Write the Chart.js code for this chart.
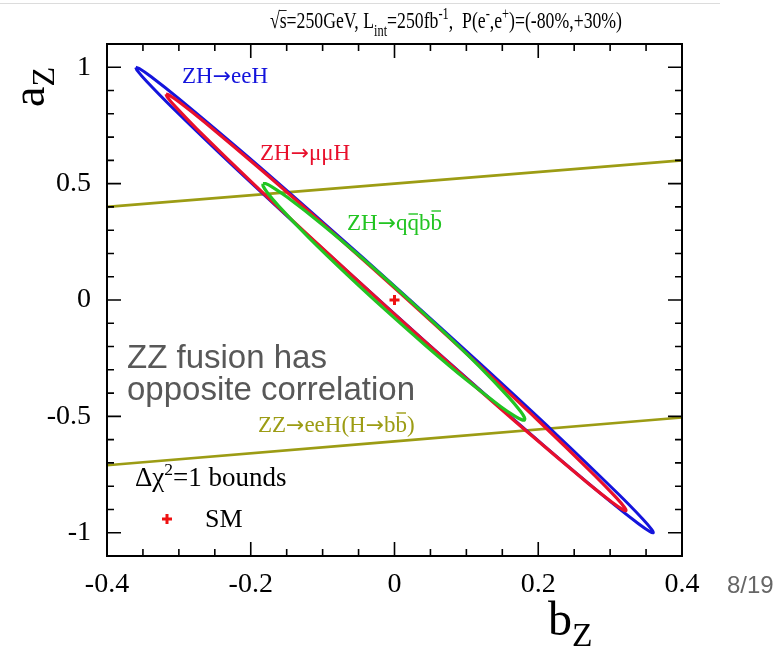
<!DOCTYPE html>
<html>
<head>
<meta charset="utf-8">
<script src="https://cdn.jsdelivr.net/npm/chart.js@4.4.1/dist/chart.umd.min.js"></script>
<style>
  html, body { margin: 0; padding: 0; background: #fff; }
  #wrap { width: 776px; height: 648px; position: relative; }
</style>
</head>
<body>
<div id="wrap"><canvas id="fit"></canvas></div>
<script>
// ---------------------------------------------------------------
// Delta chi^2 = 1 contours in the (bZ, aZ) plane
// ---------------------------------------------------------------

const X_TICKS = [-0.4, -0.2, 0, 0.2, 0.4];
const X_MINOR = [-0.35, -0.3, -0.25, -0.15, -0.1, -0.05, 0.05, 0.1, 0.15, 0.25, 0.3, 0.35];
const Y_TICKS = [-1, -0.5, 0, 0.5, 1];
const Y_MINOR = [-0.9, -0.8, -0.7, -0.6, -0.4, -0.3, -0.2, -0.1, 0.1, 0.2, 0.3, 0.4, 0.6, 0.7, 0.8, 0.9];

// ZH -> eeH contour (bZ, aZ)
const eehB = [-0.360, -0.3551, -0.3390, -0.3009, -0.2082, -0.0988, 0.0097, 0.1172, 0.2238, 0.3111, 0.3450, 0.3578, 0.360,
              0.3551, 0.3390, 0.3009, 0.2082, 0.0988, -0.0097, -0.1172, -0.2238, -0.3111, -0.3450, -0.3578, -0.360];
const eehA = [1.000, 0.9947, 0.9604, 0.8674, 0.6265, 0.3316, 0.0332, -0.2684, -0.5735, -0.8326, -0.9396, -0.9853, -1.000,
              -0.9947, -0.9604, -0.8674, -0.6265, -0.3316, -0.0332, 0.2684, 0.5735, 0.8326, 0.9396, 0.9853, 1.000];

// ZH -> mumuH contour
const mmhB = [-0.318, -0.3135, -0.2991, -0.2652, -0.1827, -0.0853, 0.0111, 0.1067, 0.2013, 0.2788, 0.3089, 0.3201, 0.322,
              0.3175, 0.3031, 0.2692, 0.1867, 0.0893, -0.0071, -0.1027, -0.1973, -0.2748, -0.3049, -0.3161, -0.318];
const mmhA = [0.885, 0.8805, 0.8500, 0.7672, 0.5518, 0.2881, 0.0211, -0.2489, -0.5222, -0.7544, -0.8506, -0.8917, -0.905,
              -0.9005, -0.8700, -0.7872, -0.5718, -0.3081, -0.0411, 0.2289, 0.5022, 0.7344, 0.8306, 0.8717, 0.885];

// ZH -> qqbb contour
const qqbbB = [-0.183, -0.1796, -0.1705, -0.1500, -0.1015, -0.0452, 0.0099, 0.0640, 0.1169, 0.1594, 0.1753, 0.1808, 0.181,
               0.1776, 0.1685, 0.1480, 0.0995, 0.0432, -0.0119, -0.0660, -0.1189, -0.1614, -0.1773, -0.1828, -0.183];
const qqbbA = [0.500, 0.5001, 0.4863, 0.4435, 0.3269, 0.1804, 0.0298, -0.1242, -0.2821, -0.4193, -0.4779, -0.5047, -0.515,
               -0.5151, -0.5013, -0.4585, -0.3419, -0.1954, -0.0448, 0.1092, 0.2671, 0.4043, 0.4629, 0.4897, 0.500];

// ZZ fusion band edges (only the two long sides are inside the frame)
const zzUpperB = [-0.4, 0.4];
const zzUpperA = [0.40, 0.60];
const zzLowerB = [-0.4, 0.4];
const zzLowerA = [-0.71, -0.505];

// Standard Model point
const smB = [0];
const smA = [0];

const COLORS = {
    eeh: '#1414dc',
    mmh: '#e8102c',
    qqbb: '#22c422',
    zz: '#9c9c14',
    sm: '#ee1111',
    note: '#585858'
};

const SERIF = "'Liberation Serif', 'Times New Roman', serif";
const SANS = "'Liberation Sans', Arial, sans-serif";
const ARROW = "'DejaVu Sans', sans-serif";
const RA = '\u2192';

function pts(bs, as) {
    return bs.map((b, i) => ({ x: b, y: as[i] }));
}

function contour(label, bs, as, color, width) {
    return {
        label: label,
        data: pts(bs, as),
        showLine: true,
        borderColor: color,
        borderWidth: width,
        pointRadius: 0,
        tension: 0.3,
        fill: false
    };
}

// draw a run of text pieces: [text, size factor, baseline shift in em, family]
function richText(ctx, x, y, size, pieces, color) {
    ctx.fillStyle = color;
    ctx.textBaseline = 'alphabetic';
    ctx.textAlign = 'left';
    let cx = x;
    pieces.forEach(p => {
        const s = size * p[1];
        ctx.font = s + 'px ' + (p[3] || SERIF);
        ctx.fillText(p[0], cx, y + p[2] * size);
        cx += ctx.measureText(p[0]).width;
    });
    return cx;
}

function richWidth(ctx, size, pieces) {
    let w = 0;
    pieces.forEach(p => {
        ctx.font = (size * p[1]) + 'px ' + (p[3] || SERIF);
        w += ctx.measureText(p[0]).width;
    });
    return w;
}

// overline above one glyph that starts after the given pieces
function overbar(ctx, x, y, size, before, glyph, lift, color) {
    const x0 = x + richWidth(ctx, size, before);
    ctx.font = size + 'px ' + SERIF;
    const w = ctx.measureText(glyph).width;
    ctx.strokeStyle = color;
    ctx.lineWidth = 1.4;
    ctx.beginPath();
    ctx.moveTo(x0 + 1, y - lift); ctx.lineTo(x0 + w - 1, y - lift);
    ctx.stroke();
}

const framePlugin = {
    id: 'frame',
    afterDatasetsDraw(chart) {
        const ctx = chart.ctx;
        const a = chart.chartArea;
        const xs = chart.scales.x;
        const ys = chart.scales.y;
        ctx.save();

        // frame
        ctx.strokeStyle = '#000';
        ctx.lineWidth = 2;
        ctx.strokeRect(a.left, a.top, a.right - a.left, a.bottom - a.top);

        // inward ticks on all four sides
        ctx.lineWidth = 1.6;
        ctx.beginPath();
        const xt = (v, len) => {
            const px = xs.getPixelForValue(v);
            ctx.moveTo(px, a.bottom); ctx.lineTo(px, a.bottom - len);
            ctx.moveTo(px, a.top); ctx.lineTo(px, a.top + len);
        };
        const yt = (v, len) => {
            const py = ys.getPixelForValue(v);
            ctx.moveTo(a.left, py); ctx.lineTo(a.left + len, py);
            ctx.moveTo(a.right, py); ctx.lineTo(a.right - len, py);
        };
        X_TICKS.forEach(v => xt(v, 14));
        X_MINOR.forEach(v => xt(v, 7));
        Y_TICKS.forEach(v => yt(v, 14));
        Y_MINOR.forEach(v => yt(v, 7));
        ctx.stroke();

        // curve labels
        const ls = 23;
        const arrow = [RA, 0.95, 0, ARROW];
        richText(ctx, 182, 83, ls, [['ZH', 1, 0], arrow, ['eeH', 1, 0]], COLORS.eeh);
        richText(ctx, 260, 160, ls, [['ZH', 1, 0], arrow, ['\u03bc\u03bcH', 1, 0]], COLORS.mmh);

        // ZH -> q qbar b bbar, bars drawn by hand
        const gx = 347, gy = 230;
        richText(ctx, gx, gy, ls, [['ZH', 1, 0], arrow, ['qqbb', 1, 0]], COLORS.qqbb);
        overbar(ctx, gx, gy, ls, [['ZH', 1, 0], arrow, ['q', 1, 0]], 'q', 16, COLORS.qqbb);
        overbar(ctx, gx, gy, ls, [['ZH', 1, 0], arrow, ['qqb', 1, 0]], 'b', 19, COLORS.qqbb);

        // ZZ -> eeH(H -> b bbar)
        const zx = 258, zy = 432;
        richText(ctx, zx, zy, ls, [['ZZ', 1, 0], arrow, ['eeH(H', 1, 0], arrow, ['bb)', 1, 0]], COLORS.zz);
        overbar(ctx, zx, zy, ls, [['ZZ', 1, 0], arrow, ['eeH(H', 1, 0], arrow, ['b', 1, 0]], 'b', 19, COLORS.zz);

        // legend box
        richText(ctx, 135, 486, 27, [['\u0394\u03c7', 1, 0], ['2', 0.65, -0.42], ['=1 bounds', 1, 0]], '#000');
        richText(ctx, 205, 527, 26, [['SM', 1, 0]], '#000');
        ctx.strokeStyle = COLORS.sm;
        ctx.lineWidth = 3;
        ctx.beginPath();
        ctx.moveTo(162, 519); ctx.lineTo(172, 519);
        ctx.moveTo(167, 514); ctx.lineTo(167, 524);
        ctx.stroke();

        // note on the ZZ fusion band
        ctx.fillStyle = COLORS.note;
        ctx.font = '33px ' + SANS;
        ctx.fillText('ZZ fusion has', 127, 368);
        ctx.fillText('opposite correlation', 127, 400);

        ctx.restore();
    },
    afterDraw(chart) {
        const ctx = chart.ctx;
        ctx.save();

        // thin rule along the top
        ctx.strokeStyle = '#dcdcdc';
        ctx.lineWidth = 1;
        ctx.beginPath();
        ctx.moveTo(0, 3.5); ctx.lineTo(720, 3.5);
        ctx.stroke();

        // run conditions, squeezed to the plot's title width
        const tx = 270, ty = 28, ts = 23;
        const title = [
            ['\u221as=250GeV, L', 1, 0], ['int', 0.7, 0.35], ['=250fb', 1, 0], ['-1', 0.7, -0.4],
            [',  P(e', 1, 0], ['-', 0.7, -0.4], [',e', 1, 0], ['+', 0.7, -0.4], [')=(-80%,+30%)', 1, 0]
        ];
        const k = 352 / richWidth(ctx, ts, title);
        ctx.save();
        ctx.translate(tx, 0);
        ctx.scale(k, 1);
        richText(ctx, 0, ty, ts, title, '#000');
        ctx.font = ts + 'px ' + SERIF;
        const wr = ctx.measureText('\u221a').width;
        const ws = ctx.measureText('s').width;
        ctx.strokeStyle = '#000';
        ctx.lineWidth = 1;
        ctx.beginPath();
        ctx.moveTo(wr - 1, ty - 17.5); ctx.lineTo(wr + ws, ty - 17.5);
        ctx.stroke();
        ctx.restore();

        // axis titles
        richText(ctx, 548, 635, 48, [['b', 1, 0], ['Z', 0.7, 0.22]], '#000');
        ctx.translate(44, 107);
        ctx.rotate(-Math.PI / 2);
        richText(ctx, 0, 0, 46, [['a', 1, 0], ['Z', 0.7, 0.22]], '#000');
        ctx.setTransform(1, 0, 0, 1, 0, 0);

        // page number
        ctx.fillStyle = '#666';
        ctx.font = '24px ' + SANS;
        ctx.fillText('8/19', 727, 593);

        ctx.restore();
    }
};

const fixedTicks = list => scale => {
    scale.ticks = list.map(v => ({ value: v }));
};

new Chart(document.getElementById('fit'), {
    type: 'scatter',
    data: {
        datasets: [
            {
                label: 'SM',
                data: pts(smB, smA),
                pointStyle: 'cross',
                pointRadius: 5,
                pointBorderWidth: 3,
                borderColor: COLORS.sm,
                backgroundColor: COLORS.sm
            },
            contour('ZH\u2192qqbb', qqbbB, qqbbA, COLORS.qqbb, 3.2),
            contour('ZH\u2192\u03bc\u03bcH', mmhB, mmhA, COLORS.mmh, 3.2),
            contour('ZH\u2192eeH', eehB, eehA, COLORS.eeh, 3),
            contour('ZZ upper', zzUpperB, zzUpperA, COLORS.zz, 2.6),
            contour('ZZ lower', zzLowerB, zzLowerA, COLORS.zz, 2.6)
        ]
    },
    options: {
        responsive: true,
        maintainAspectRatio: false,
        animation: false,
        events: [],
        layout: { padding: { left: 0, top: 44, right: 94, bottom: 0 } },
        plugins: {
            legend: { display: false },
            tooltip: { enabled: false }
        },
        scales: {
            x: {
                type: 'linear',
                min: -0.4,
                max: 0.4,
                afterBuildTicks: fixedTicks(X_TICKS),
                afterFit: s => { s.height = 92; },
                grid: { display: false },
                border: { display: false },
                ticks: {
                    autoSkip: false,
                    maxRotation: 0,
                    padding: 4,
                    color: '#000',
                    font: { family: SERIF, size: 28 },
                    callback: v => String(Math.round(v * 10) / 10)
                }
            },
            y: {
                type: 'linear',
                min: -1.1,
                max: 1.1,
                afterBuildTicks: fixedTicks(Y_TICKS),
                afterFit: s => { s.width = 107; },
                grid: { display: false },
                border: { display: false },
                ticks: {
                    autoSkip: false,
                    padding: 8,
                    color: '#000',
                    font: { family: SERIF, size: 28 },
                    callback: v => String(Math.round(v * 10) / 10)
                }
            }
        }
    },
    plugins: [framePlugin]
});
</script>
</body>
</html>
